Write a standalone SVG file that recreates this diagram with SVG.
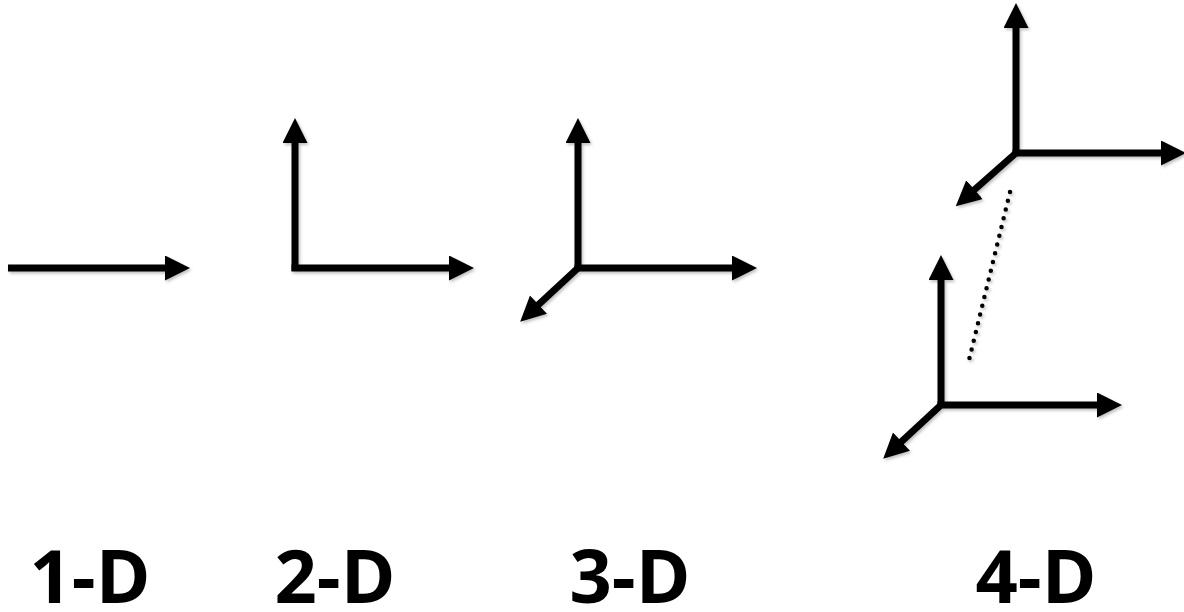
<svg xmlns="http://www.w3.org/2000/svg" width="1184" height="612" viewBox="0 0 1184 612">
<style>
.ax{stroke:#000;stroke-width:7;fill:none;marker-end:url(#ah)}
.dot{stroke:#000;stroke-width:4.5;stroke-linecap:round;stroke-dasharray:0 9;fill:none}
.lbl{font-family:"Open Sans","Liberation Sans",sans-serif;font-weight:bold;font-size:74px;fill:#000;text-anchor:middle}
</style>
<defs>
<marker id="ah" markerUnits="userSpaceOnUse" markerWidth="26" markerHeight="26" refX="2" refY="12.5" orient="auto">
<path d="M0,0 L25,12.5 L0,25 z" fill="#000"/>
</marker>
<filter id="sh" x="-10%" y="-10%" width="130%" height="130%">
<feDropShadow dx="1.5" dy="2" stdDeviation="1.5" flood-color="#000" flood-opacity="0.25"/>
</filter>
</defs>
<g id="connectors" filter="url(#sh)">
<g id="d1">
<path class="ax" d="M8,268 H167"/>
</g>
<g id="d2">
<path class="ax" d="M295,271 V141"/>
<path class="ax" d="M291.5,268 H451"/>
</g>
<g id="d3">
<path class="ax" d="M578,271 V141"/>
<path class="ax" d="M574.5,268 H734"/>
<path class="ax" d="M578,268 L537,306"/>
</g>
<g id="d4top">
<path class="ax" d="M1016,156 V26"/>
<path class="ax" d="M1012.5,153 H1163"/>
<path class="ax" d="M1016,153 L973,191"/>
</g>
<g id="d4bottom">
<path class="ax" d="M941,408 V278"/>
<path class="ax" d="M937.5,405 H1099"/>
<path class="ax" d="M941,405 L900,443"/>
</g>
<path id="dotted" class="dot" d="M1010,192 L969,360"/>
</g>
<g id="labels">
<text class="lbl" x="90" y="603">1-D</text>
<text class="lbl" x="335" y="603">2-D</text>
<text class="lbl" x="630" y="603">3-D</text>
<text class="lbl" x="1036" y="603">4-D</text>
</g>
</svg>
